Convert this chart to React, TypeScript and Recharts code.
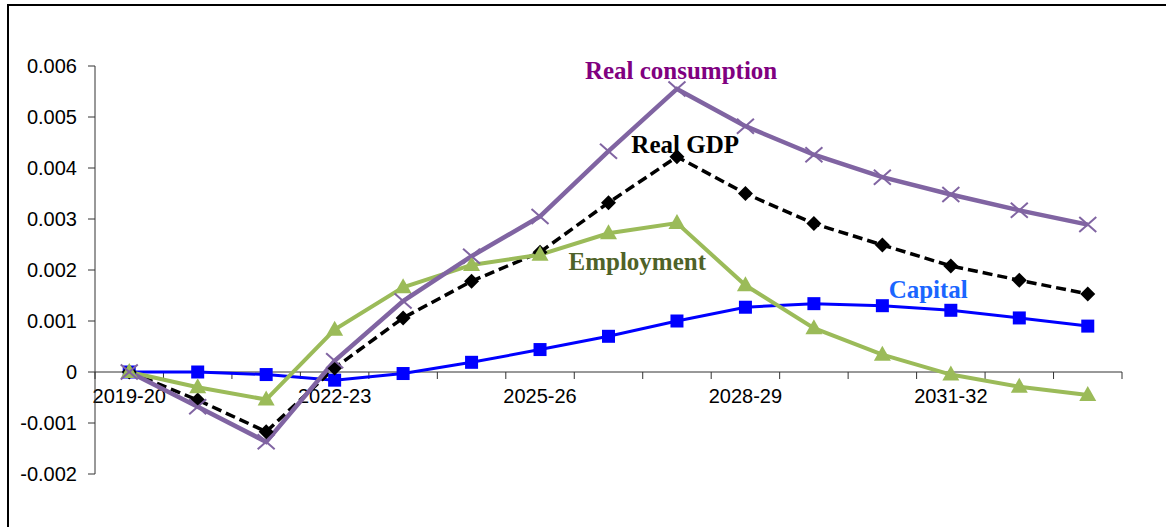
import React from 'react';
import { LineChart, Line, XAxis, YAxis, ReferenceDot } from 'recharts';

const categories = [
  '2019-20', '2020-21', '2021-22', '2022-23', '2023-24', '2024-25', '2025-26', '2026-27',
  '2027-28', '2028-29', '2029-30', '2030-31', '2031-32', '2032-33', '2033-34',
];
const capital = [0, 0, -0.00005, -0.00016, -0.00003, 0.00019, 0.00044, 0.0007, 0.001, 0.00127, 0.00134, 0.0013, 0.00121, 0.00106, 0.0009];
const employment = [0, -0.0003, -0.00054, 0.00083, 0.00166, 0.0021, 0.0023, 0.00272, 0.00292, 0.0017, 0.00086, 0.00034, -0.00005, -0.00029, -0.00045];
const realGdp = [0, -0.00055, -0.00117, 0.00008, 0.00106, 0.00178, 0.00235, 0.00332, 0.00422, 0.0035, 0.00291, 0.00249, 0.00208, 0.0018, 0.00153];
const realConsumption = [0, -0.00068, -0.00137, 0.00022, 0.00139, 0.00227, 0.00305, 0.00433, 0.00555, 0.00482, 0.00426, 0.00382, 0.00348, 0.00317, 0.00289];

const yTicks = [-0.002, -0.001, 0, 0.001, 0.002, 0.003, 0.004, 0.005, 0.006];
const xLabelTicks = [0, 3, 6, 9, 12];
const xBoundaryTicks = [-0.5, 0.5, 1.5, 2.5, 3.5, 4.5, 5.5, 6.5, 7.5, 8.5, 9.5, 10.5, 11.5, 12.5, 13.5, 14.5];

const annotations = [
  { text: 'Real consumption', x: 8.06, y: 0.00591, color: '#800080' },
  { text: 'Real GDP', x: 8.12, y: 0.00447, color: '#000000' },
  { text: 'Employment', x: 7.42, y: 0.00218, color: '#4F6228' },
  { text: 'Capital', x: 11.67, y: 0.00163, color: '#1A66FF' },
];

const data = categories.map((c, i) => ({
  i,
  category: c,
  capital: capital[i],
  employment: employment[i],
  realGdp: realGdp[i],
  realConsumption: realConsumption[i],
}));

const W = 1166;
const H = 527;
const SANS = '"Liberation Sans", Arial, sans-serif';
const SERIF = '"Liberation Serif", "Times New Roman", serif';
const AXIS_COLOR = '#333333';

const SquareDot = (p: any) => (
  <rect key={`sq-${p.index}`} x={p.cx - 6.5} y={p.cy - 6.5} width={13} height={13} fill="#0000FF" />
);
const TriangleDot = (p: any) => (
  <polygon
    key={`tr-${p.index}`}
    points={`${p.cx},${p.cy - 9} ${p.cx + 8.5},${p.cy + 6} ${p.cx - 8.5},${p.cy + 6}`}
    fill="#9BBB59"
  />
);
const DiamondDot = (p: any) => (
  <polygon
    key={`di-${p.index}`}
    points={`${p.cx},${p.cy - 7.5} ${p.cx + 7.5},${p.cy} ${p.cx},${p.cy + 7.5} ${p.cx - 7.5},${p.cy}`}
    fill="#000000"
  />
);
const CrossDot = (p: any) => (
  <g key={`x-${p.index}`} stroke="#8064A2" strokeWidth={2}>
    <line x1={p.cx - 8.5} y1={p.cy - 7.5} x2={p.cx + 8.5} y2={p.cy + 7.5} />
    <line x1={p.cx - 8.5} y1={p.cy + 7.5} x2={p.cx + 8.5} y2={p.cy - 7.5} />
  </g>
);

const overlayMargin = { top: 66, right: 44, bottom: 125, left: 95 };

export default function App() {
  return (
    <div style={{ position: 'absolute', left: 0, top: 0, width: W, height: H, overflow: 'hidden', background: '#fff' }}>
      <div
        style={{
          position: 'absolute',
          left: 7,
          top: 4,
          width: W + 50,
          height: H + 50,
          borderTop: '2px solid #000',
          borderLeft: '2px solid #000',
        }}
      />
      {/* x-axis line with boundary tick marks, crossing at zero */}
      <div style={{ position: 'absolute', left: 0, top: 0 }}>
        <LineChart width={W} height={H} data={data} margin={overlayMargin}>
          <XAxis
            type="number"
            dataKey="i"
            domain={[-0.5, 14.5]}
            ticks={xBoundaryTicks}
            interval={0}
            height={30}
            tickSize={7}
            tickFormatter={() => ''}
            stroke={AXIS_COLOR}
            axisLine={{ stroke: AXIS_COLOR, strokeWidth: 1 }}
            tickLine={{ stroke: AXIS_COLOR, strokeWidth: 1 }}
          />
        </LineChart>
      </div>
      {/* x-axis category labels */}
      <div style={{ position: 'absolute', left: 0, top: 0 }}>
        <LineChart width={W} height={H} data={data} margin={overlayMargin}>
          <XAxis
            type="number"
            dataKey="i"
            domain={[-0.5, 14.5]}
            ticks={xLabelTicks}
            interval={0}
            height={30}
            tickSize={7}
            tickMargin={10}
            axisLine={false}
            tickLine={false}
            tickFormatter={(v: number) => categories[v] ?? ''}
            tick={{ fill: '#000', fontSize: 20, fontFamily: SANS }}
          />
        </LineChart>
      </div>
      {/* main chart */}
      <div style={{ position: 'absolute', left: 0, top: 0 }}>
        <LineChart width={W} height={H} data={data} margin={{ top: 66, right: 44, bottom: 53, left: 0 }}>
          <XAxis type="number" dataKey="i" domain={[-0.5, 14.5]} hide />
          <YAxis
            type="number"
            domain={[-0.002, 0.006]}
            ticks={yTicks}
            interval={0}
            width={95}
            tickSize={7}
            tickMargin={11}
            axisLine={{ stroke: AXIS_COLOR, strokeWidth: 1 }}
            tickLine={{ stroke: AXIS_COLOR, strokeWidth: 1 }}
            tickFormatter={(v: number) => (v === 0 ? '0' : v.toFixed(3))}
            tick={{ fill: '#000', fontSize: 20, fontFamily: SANS }}
          />
          <Line
            dataKey="capital"
            stroke="#0000FF"
            strokeWidth={3}
            dot={SquareDot}
            isAnimationActive={false}
          />
          <Line
            dataKey="realGdp"
            stroke="#000000"
            strokeWidth={3.5}
            strokeDasharray="10 5"
            dot={DiamondDot}
            isAnimationActive={false}
          />
          <Line
            dataKey="employment"
            stroke="#9BBB59"
            strokeWidth={4}
            dot={TriangleDot}
            isAnimationActive={false}
          />
          <Line
            dataKey="realConsumption"
            stroke="#8064A2"
            strokeWidth={4.5}
            dot={CrossDot}
            isAnimationActive={false}
          />
          {annotations.map((a) => (
            <ReferenceDot
              key={a.text}
              x={a.x}
              y={a.y}
              r={0}
              fill="none"
              stroke="none"
              label={{
                value: a.text,
                position: 'center',
                fill: a.color,
                fontSize: 25,
                fontWeight: 'bold',
                fontFamily: SERIF,
              }}
            />
          ))}
        </LineChart>
      </div>
    </div>
  );
}
